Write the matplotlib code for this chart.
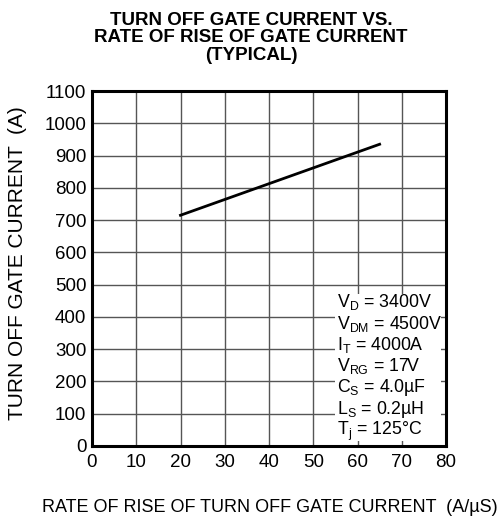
import matplotlib.pyplot as plt
from matplotlib.patches import Rectangle

plt.rcParams['font.family'] = ['Liberation Sans', 'DejaVu Sans']
plt.rcParams['mathtext.fontset'] = 'custom'
plt.rcParams['mathtext.rm'] = 'Liberation Sans'
plt.rcParams['mathtext.it'] = 'Liberation Sans'

# curve
di_dt = [20, 65]
igq = [715, 935]

x_ticks = [0, 10, 20, 30, 40, 50, 60, 70, 80]
y_ticks = [0, 100, 200, 300, 400, 500, 600, 700, 800, 900, 1000, 1100]

conditions = [
    r"V$_\mathregular{D}$ = 3400V",
    r"V$_\mathregular{DM}$ = 4500V",
    r"I$_\mathregular{T}$ = 4000A",
    r"V$_\mathregular{RG}$ = 17V",
    r"C$_\mathregular{S}$ = 4.0µF",
    r"L$_\mathregular{S}$ = 0.2µH",
    r"T$_\mathregular{j}$ = 125°C",
]

fig = plt.figure(figsize=(5.02, 5.17), dpi=100)
ax = fig.add_axes([92 / 502, 1 - 446 / 517, 354 / 502, 355 / 517])

ax.plot(di_dt, igq, color="black", lw=2, zorder=3)

ax.set_xlim(0, 80)
ax.set_ylim(0, 1100)
ax.set_xticks(x_ticks)
ax.set_yticks(y_ticks)
ax.tick_params(length=0, labelsize=13.5)
ax.tick_params(axis="x", pad=6)
ax.tick_params(axis="y", pad=4)
ax.grid(True, color="#555555", lw=1)
ax.set_axisbelow(True)
for s in ax.spines.values():
    s.set_linewidth(2.2)

# white panel behind the test conditions (hides the grid)
ax.add_patch(Rectangle((55.0, 15), 23.8, 457, facecolor="white",
                       edgecolor="none", zorder=2))
for i, txt in enumerate(conditions):
    ypix = 302 + i * 21.5
    ax.text(55.3, (446 - ypix) / 355 * 1100, txt, fontsize=12.8,
            va="center", ha="left", zorder=4)

fig.text(0.5, 1 - 38 / 517,
         "TURN OFF GATE CURRENT VS.\nRATE OF RISE OF GATE CURRENT\n(TYPICAL)",
         ha="center", va="center", fontsize=13.5, fontweight="bold",
         linespacing=1.07)
fig.text(270 / 502, 1 - 507 / 517,
         "RATE OF RISE OF TURN OFF GATE CURRENT  (A/µS)",
         ha="center", va="center", fontsize=13)
fig.text(18 / 502, 1 - 263 / 517, "TURN OFF GATE CURRENT  (A)",
         rotation=90, ha="center", va="center", fontsize=15)

fig.savefig("out.png", dpi=100)
